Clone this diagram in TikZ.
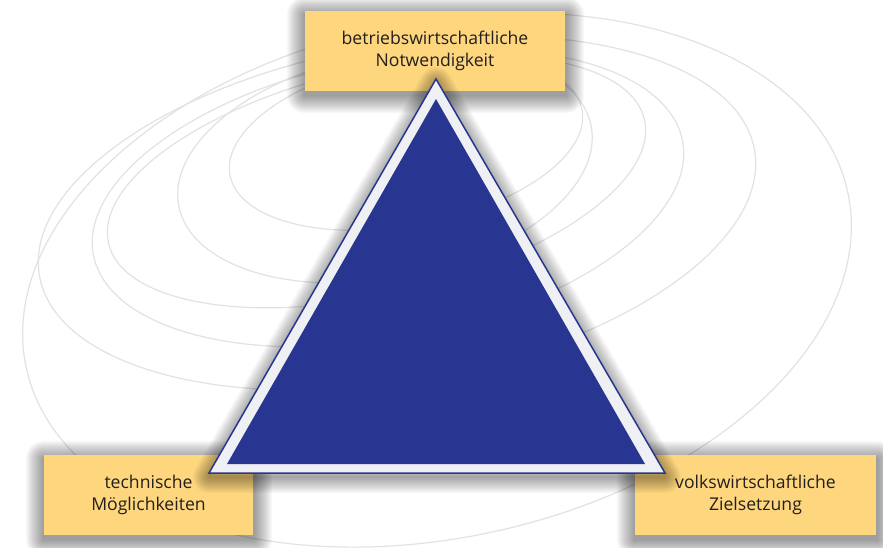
\documentclass[tikz,border=0pt]{standalone}
\usepackage{fontspec}
\setmainfont{Open Sans}
\definecolor{boxyellow}{RGB}{253,214,125}
\definecolor{triblue}{RGB}{40,54,145}
\definecolor{tririm}{RGB}{239,240,244}
\definecolor{orbit}{RGB}{226,226,228}
\definecolor{txt}{RGB}{35,31,32}
\pgfdeclarelayer{orbits}
\pgfdeclarelayer{boxshade}
\pgfdeclarelayer{trishade}
\pgfdeclarelayer{tri}
\pgfsetlayers{orbits,boxshade,main,trishade,tri}
\begin{document}
\begin{tikzpicture}[x=1pt,y=-1pt,
  orbitline/.style={draw=orbit, line width=1.2pt},
  labelbox/.style={fill=boxyellow, text=txt, align=center, minimum height=80pt, inner sep=0pt,
    font=\fontsize{17.6}{22.5}\selectfont},
  shadelayer/.style={black, opacity=0.022}
]
\useasboundingbox (0,0) rectangle (883,547);
\begin{pgfonlayer}{orbits}
\fill[white] (0,0) rectangle (883,547);
\foreach \cx/\cy/\rx/\ry/\ang in {437/280/420/258/12, 397/213/363/168/10, 388/198/300/140/11, 376.5/181.5/275/113/13, 385/166/210/112/11, 406/142.5/179/83/10.5}
  \draw[orbitline, rotate around={\ang:(\cx,\cy)}] (\cx,\cy) ellipse [x radius=\rx pt, y radius=\ry pt];
\end{pgfonlayer}

\node[labelbox, minimum width=260pt] (top) at (435,51) {betriebswirtschaftliche\\Notwendigkeit};
\node[labelbox, minimum width=209pt] (left) at (148.5,495) {technische\\Möglichkeiten};
\node[labelbox, minimum width=241pt] (right) at (755.5,495) {volkswirtschaftliche\\Zielsetzung};

\begin{pgfonlayer}{boxshade}
\foreach \n in {top,left,right}
  \foreach \r in {1,...,18}
    \fill[shadelayer, rounded corners=\r pt]
      ([xshift=-\r pt, yshift=\r pt-4pt]\n.north west) rectangle ([xshift=\r pt+1pt, yshift=-\r pt-4pt]\n.south east);
\end{pgfonlayer}

\coordinate (oa) at (436,79);
\coordinate (ob) at (209,473);
\coordinate (oc) at (665,473);
\coordinate (ia) at (436,99);
\coordinate (ib) at (227,464);
\coordinate (ic) at (645,464);

\begin{pgfonlayer}{trishade}
\foreach \r in {1,...,16}
  \draw[shadelayer, line width=2*\r pt, line join=round]
    ([yshift=-4pt]oa) -- ([yshift=-4pt]ob) -- ([yshift=-4pt]oc) -- cycle;
\end{pgfonlayer}

\begin{pgfonlayer}{tri}
\filldraw[fill=tririm, draw=triblue, line width=1.5pt] (oa) -- (ob) -- (oc) -- cycle;
\fill[triblue] (ia) -- (ib) -- (ic) -- cycle;
\end{pgfonlayer}
\end{tikzpicture}
\end{document}
